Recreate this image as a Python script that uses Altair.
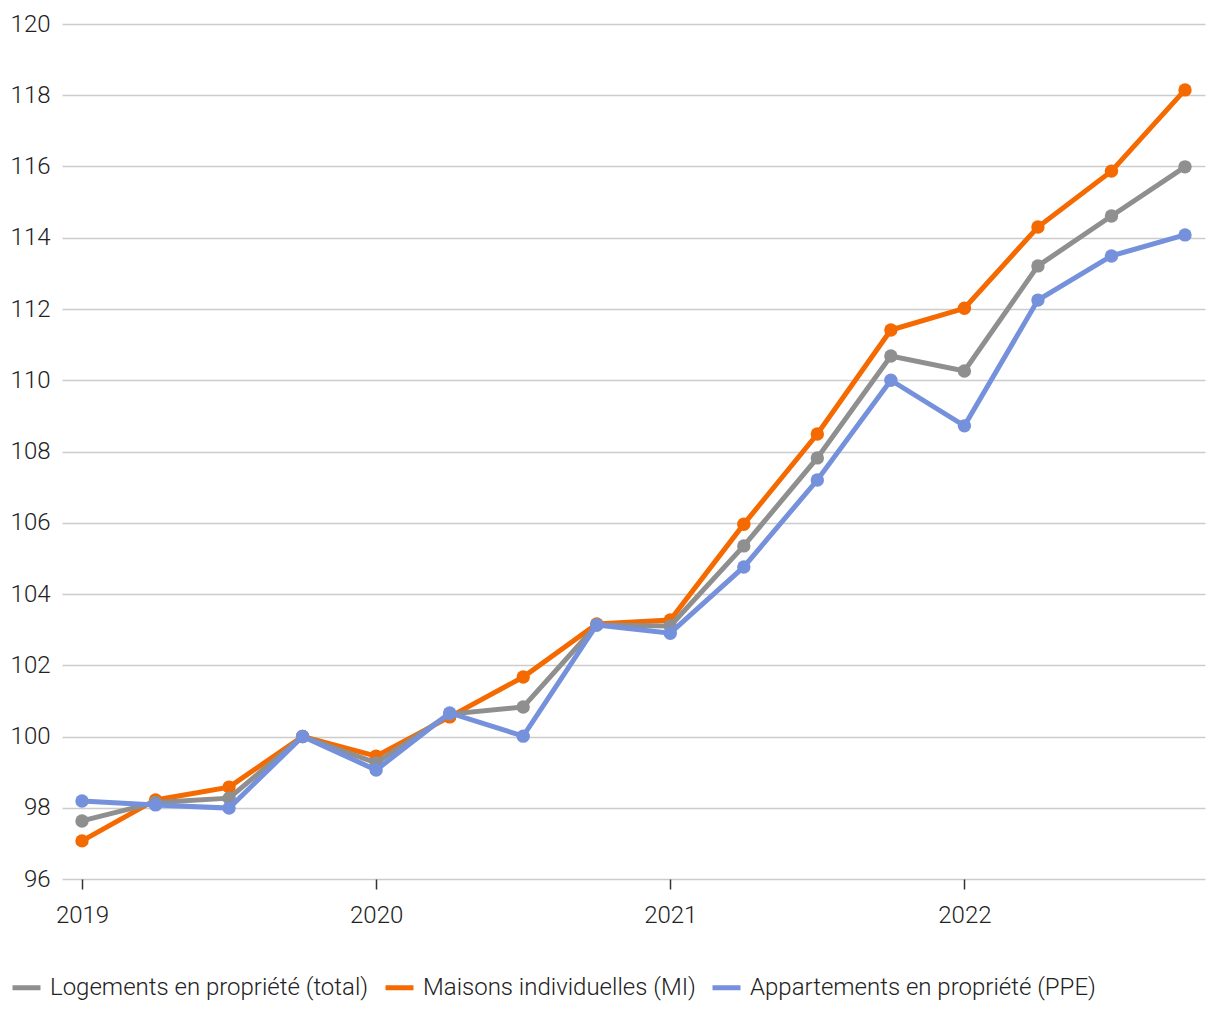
import altair as alt
import pandas as pd

quarters = list(range(16))
total = [97.63, 98.15, 98.27, 100.0, 99.26, 100.63, 100.83, 103.13,
         103.10, 105.35, 107.82, 110.68, 110.26, 113.21, 114.61, 115.99]
mi = [97.07, 98.22, 98.58, 100.0, 99.45, 100.55, 101.67, 103.16,
      103.27, 105.96, 108.49, 111.41, 112.02, 114.30, 115.87, 118.15]
ppe = [98.19, 98.08, 97.99, 100.0, 99.06, 100.66, 100.01, 103.13,
       102.90, 104.76, 107.20, 110.00, 108.72, 112.25, 113.49, 114.08]

names = ["Logements en propriété (total)", "Maisons individuelles (MI)",
         "Appartements en propriété (PPE)"]
colors = ["#8f8f8f", "#f56a00", "#7591db"]

series = {names[0]: total, names[1]: mi, names[2]: ppe}

color_scale = alt.Scale(domain=names, range=colors)

FS = 24

x_enc = alt.X("q:Q",
              scale=alt.Scale(domain=[-0.272, 15.272], nice=False, zero=False),
              axis=alt.Axis(values=[0, 4, 8, 12],
                            labelExpr="2019 + datum.value / 4",
                            title=None, grid=False, domain=False,
                            ticks=True, tickSize=10, tickColor="#333333",
                            tickWidth=1.5, labelPadding=14,
                            labelFont="Roboto", labelFontWeight=300,
                            labelFontSize=FS, labelColor="#222222"))
y_enc = alt.Y("v:Q",
              scale=alt.Scale(domain=[96, 120], nice=False, zero=False),
              axis=alt.Axis(values=list(range(96, 121, 2)), title=None,
                            grid=True, gridColor="#cccccc", gridWidth=1.5,
                            domain=False, ticks=False, labelPadding=12,
                            labelFont="Roboto", labelFontWeight=300,
                            labelFontSize=FS, labelColor="#222222"))

layers = []
for name in [names[1], names[0], names[2]]:
    df = pd.DataFrame({"q": quarters, "v": series[name], "s": name})
    layers.append(
        alt.Chart(df).mark_line(strokeWidth=5, point=alt.OverlayMarkDef(size=180, filled=True, opacity=1))
        .encode(
            x=x_enc, y=y_enc,
            color=alt.Color("s:N", scale=color_scale,
                            legend=alt.Legend(title=None, orient="none",
                                              direction="horizontal",
                                              legendX=-52, legendY=947,
                                              symbolType="stroke",
                                              symbolStrokeWidth=5,
                                              symbolSize=784,
                                              labelOffset=7,
                                              labelFont="Roboto",
                                              labelFontWeight=300,
                                              labelFontSize=FS,
                                              labelColor="#222222",
                                              columnPadding=6,
                                              labelLimit=500))
        )
    )

chart = alt.layer(*layers).properties(
    width=1143, height=855,
    padding={"left": 2, "top": 4, "right": 5, "bottom": 5},
).configure_view(stroke=None)

chart.save("out.html", embed_options={"renderer": "svg", "actions": False})
